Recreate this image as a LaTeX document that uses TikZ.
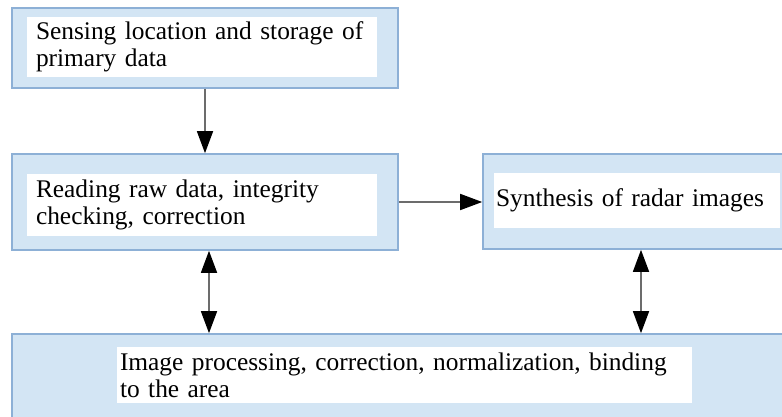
\documentclass[tikz,border=0pt]{standalone}
\usepackage{fontspec}
\setmainfont{Liberation Serif}
\usetikzlibrary{arrows.meta}

\begin{document}
\begin{tikzpicture}[x=0.5pt, y=-0.5pt,
    box/.style = {draw=boxline, fill=boxfill, line width=0.8pt, inner sep=0pt},
    txt/.style = {fill=white, inner xsep=4.5pt, inner ysep=0pt, align=left,
                  text width=#1, font=\fontsize{12.7}{13.5}\selectfont},
    link/.style = {draw=gray!85!black, line width=0.75pt},
    >={Triangle[length=11pt, width=8pt, color=black]}]

    \definecolor{boxfill}{RGB}{211,229,244}
    \definecolor{boxline}{RGB}{141,176,214}

    \useasboundingbox (0,0) rectangle (782,417);
    \clip (0,0) rectangle (782,417);

    % blocks
    \node [box, minimum width=193pt, minimum height=40pt] (b1) at (205,48) {};
    \node [box, minimum width=193pt, minimum height=48pt] (b2) at (205,202) {};
    \node [box, minimum width=157pt, minimum height=47.5pt] (b3) at (640,201.5) {};
    \node [box, minimum width=389pt, minimum height=46pt] (b4) at (401,380) {};

    % texts
    \node [txt=166pt, minimum height=30pt] (t1) at (202,47) {Sensing location and storage of\\primary data};
    \node [txt=166pt, minimum height=30.5pt] (t2) at (202,205) {Reading raw data, integrity\\checking, correction};
    \node [txt=141pt, inner xsep=1pt, minimum height=27.5pt] (t3) at (637,200.5) {Synthesis of radar images};
    \node [txt=284.5pt, inner xsep=1.5pt, minimum height=28pt] (t4) at (404.5,375) {Image processing, correction, normalization, binding\\to the area};

    \coordinate (l) at (209,0);
    \coordinate (r) at (641,0);

    \draw[link, ->] (b1.south) -- (b2.north);
    \draw[link, ->] (b2.east) -- (b3.west |- b2.east);
    \draw[link, <->] (b2.south -| l) -- (b4.north -| l);
    \draw[link, <->] (b3.south -| r) -- (b4.north -| r);

\end{tikzpicture}
\end{document}
